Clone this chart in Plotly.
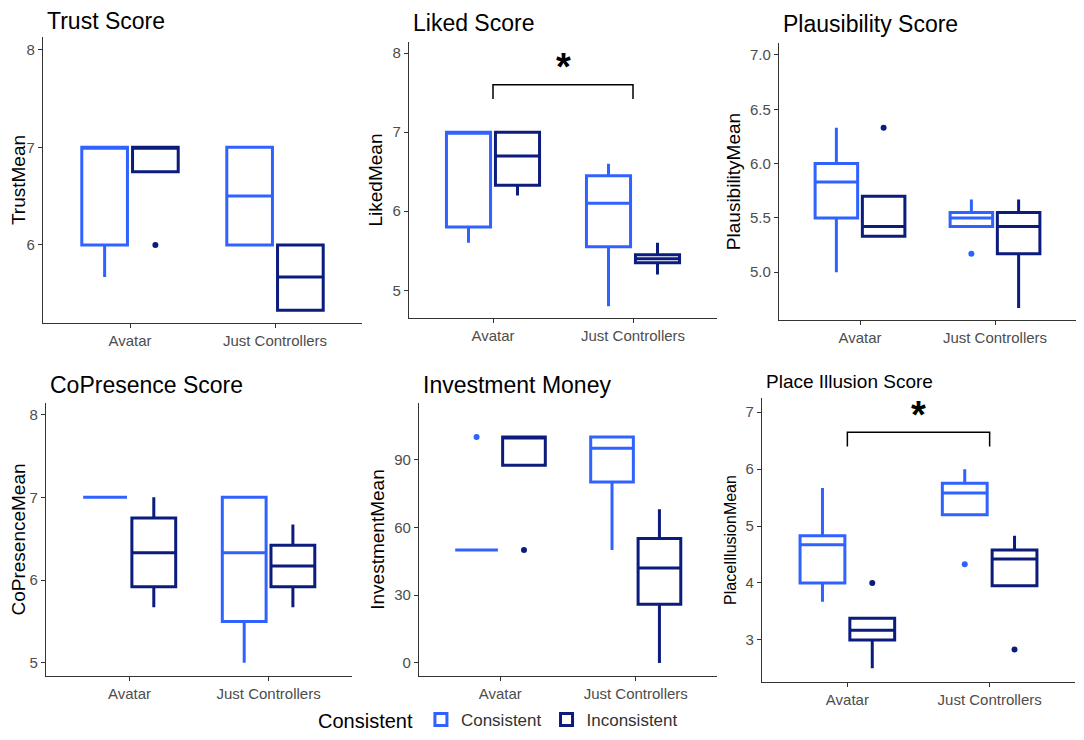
import plotly.graph_objects as go

groups = ["Avatar", "Just Controllers"]

# each box: [lower whisker, q1, median, q3, upper whisker], one per group
trust_con = [[5.67, 6.0, 7.0, 7.0, 7.0], [6.0, 6.0, 6.5, 7.0, 7.0]]
trust_inc = [[6.75, 6.75, 7.0, 7.0, 7.0], [5.33, 5.33, 5.67, 6.0, 6.0]]
trust_out_con = [[], []]
trust_out_inc = [[6.0], []]

liked_con = [[5.6, 5.8, 7.0, 7.0, 7.0], [4.8, 5.55, 6.1, 6.45, 6.6]]
liked_inc = [[6.2, 6.33, 6.7, 7.0, 7.0], [5.2, 5.35, 5.4, 5.45, 5.6]]
liked_out_con = [[], []]
liked_out_inc = [[], []]

plaus_con = [[5.0, 5.5, 5.83, 6.0, 6.33], [5.42, 5.42, 5.5, 5.55, 5.67]]
plaus_inc = [[5.33, 5.33, 5.42, 5.7, 5.7], [4.67, 5.17, 5.42, 5.55, 5.67]]
plaus_out_con = [[], [5.17]]
plaus_out_inc = [[6.33], []]

copres_con = [[7.0, 7.0, 7.0, 7.0, 7.0], [5.0, 5.5, 6.33, 7.0, 7.0]]
copres_inc = [[5.67, 5.92, 6.33, 6.75, 7.0], [5.67, 5.92, 6.17, 6.42, 6.67]]
copres_out_con = [[], []]
copres_out_inc = [[], []]

invest_con = [[50, 50, 50, 50, 50], [50, 80, 95, 100, 100]]
invest_inc = [[87.5, 87.5, 100, 100, 100], [0, 26, 42, 55, 68]]
invest_out_con = [[100], []]
invest_out_inc = [[50], []]

place_con = [[3.67, 4.0, 4.67, 4.83, 5.67], [5.2, 5.2, 5.58, 5.75, 6.0]]
place_inc = [[2.5, 3.0, 3.17, 3.38, 3.38], [3.95, 3.95, 4.42, 4.58, 4.83]]
place_out_con = [[], [4.33]]
place_out_inc = [[4.0], [2.83]]

liked_bracket = [7.42, 7.6, 7.6, 7.42]
liked_star = 7.83
place_bracket = [6.4, 6.65, 6.65, 6.4]
place_star = 6.95

COL_CON = "#3062FF"
COL_INC = "#0B1C7C"

# the page body has an 8px margin, so the figure is made smaller and
# reference pixel positions are shifted by that amount
OFF = 8
W, H = 1084 - 2 * OFF, 740 - 2 * OFF


def fx(px):
    return (px - OFF) / W


def fy(py):
    return 1 - (py - OFF) / H


panels = [
    dict(title="Trust Score", ytitle="TrustMean", con=trust_con, inc=trust_inc,
         oc=trust_out_con, oi=trust_out_inc, px=(43, 362), py=(37, 323),
         yr=[5.2, 8.13], ticks=[6, 7, 8], fmt="", tsize=23, ysize=19, ty=21),
    dict(title="Liked Score", ytitle="LikedMean", con=liked_con, inc=liked_inc,
         oc=liked_out_con, oi=liked_out_inc, px=(409, 717), py=(42, 318),
         yr=[4.65, 8.14], ticks=[5, 6, 7, 8], fmt="", tsize=23, ysize=19, ty=23),
    dict(title="Plausibility Score", ytitle="PlausibilityMean", con=plaus_con, inc=plaus_inc,
         oc=plaus_out_con, oi=plaus_out_inc, px=(779, 1076), py=(43, 320),
         yr=[4.56, 7.11], ticks=[5.0, 5.5, 6.0, 6.5, 7.0], fmt=".1f", tsize=23, ysize=19, ty=24),
    dict(title="CoPresence Score", ytitle="CoPresenceMean", con=copres_con, inc=copres_inc,
         oc=copres_out_con, oi=copres_out_inc, px=(46, 352), py=(403, 676),
         yr=[4.84, 8.14], ticks=[5, 6, 7, 8], fmt="", tsize=23, ysize=19, ty=385),
    dict(title="Investment Money", ytitle="InvestmentMean", con=invest_con, inc=invest_inc,
         oc=invest_out_con, oi=invest_out_inc, px=(419, 717), py=(403, 676),
         yr=[-5.8, 115], ticks=[0, 30, 60, 90], fmt="", tsize=23, ysize=19, ty=385),
    dict(title="Place Illusion Score", ytitle="PlaceIllusionMean", con=place_con, inc=place_inc,
         oc=place_out_con, oi=place_out_inc, px=(762, 1075), py=(398, 682),
         yr=[2.26, 7.25], ticks=[3, 4, 5, 6, 7], fmt="", tsize=19, ysize=16, ty=382),
]

fig = go.Figure()
layout = {}
annotations = []


def box_trace(stats, outliers, name, color, xa, ya, show):
    extra = {}
    if any(outliers):
        # empty groups get a placeholder so plotly still reads y as one sample list per box
        extra["y"] = [o if o else [None] for o in outliers]
        extra["boxpoints"] = "outliers"
    else:
        extra["boxpoints"] = False
    return go.Box(
        x=groups,
        lowerfence=[s[0] for s in stats],
        q1=[s[1] for s in stats],
        median=[s[2] for s in stats],
        q3=[s[3] for s in stats],
        upperfence=[s[4] for s in stats],
        jitter=0,
        pointpos=0,
        name=name,
        legendgroup=name,
        showlegend=show,
        offsetgroup=name,
        line=dict(color=color, width=3),
        fillcolor="rgba(255,255,255,0)",
        marker=dict(color=color, size=6),
        whiskerwidth=0,
        xaxis=xa,
        yaxis=ya,
        hoverinfo="skip",
        **extra,
    )


for i, p in enumerate(panels):
    n = "" if i == 0 else str(i + 1)
    xa, ya = "x" + n, "y" + n
    fig.add_trace(box_trace(p["con"], p["oc"], "Consistent", COL_CON, xa, ya, i == 0))
    fig.add_trace(box_trace(p["inc"], p["oi"], "Inconsistent", COL_INC, xa, ya, i == 0))

    layout["xaxis" + n] = dict(
        domain=[fx(p["px"][0]), fx(p["px"][1])], anchor=ya, type="category",
        categoryorder="array", categoryarray=groups, range=[-0.6, 1.6],
        showline=True, linecolor="#333333", linewidth=1.3, ticks="outside",
        ticklen=4, tickcolor="#333333", showgrid=False, zeroline=False,
        tickfont=dict(size=15, color="#4d4d4d"), automargin=False,
    )
    layout["yaxis" + n] = dict(
        domain=[fy(p["py"][1]), fy(p["py"][0])], anchor=xa, range=p["yr"],
        tickvals=p["ticks"], tickformat=p["fmt"], showline=True, linecolor="#333333",
        linewidth=1.3, ticks="outside", ticklen=4, tickcolor="#333333",
        showgrid=False, zeroline=False, tickfont=dict(size=15, color="#4d4d4d"),
        title=dict(text=p["ytitle"], font=dict(size=p["ysize"], color="black"), standoff=4),
        automargin=False,
    )
    annotations.append(dict(
        text=p["title"], xref="paper", yref="paper", x=fx(p["px"][0] + 2),
        y=fy(p["ty"]), xanchor="left", yanchor="middle",
        showarrow=False, font=dict(size=p["tsize"], color="black"),
    ))

# significance brackets
for n, by, sy in [("2", liked_bracket, liked_star), ("6", place_bracket, place_star)]:
    fig.add_trace(go.Scatter(
        x=[groups[0], groups[0], groups[1], groups[1]], y=by, mode="lines",
        line=dict(color="black", width=1.5), showlegend=False, hoverinfo="skip",
        xaxis="x" + n, yaxis="y" + n,
    ))
    annotations.append(dict(
        text="<b>*</b>", x=0.5, y=sy, xref="x" + n, yref="y" + n, showarrow=False,
        font=dict(size=38, color="black"), yanchor="middle",
    ))

fig.update_layout(
    **layout,
    annotations=annotations,
    width=W,
    height=H,
    margin=dict(l=0, r=0, t=0, b=0, autoexpand=False),
    paper_bgcolor="white",
    plot_bgcolor="white",
    font=dict(family="Liberation Sans, Arial, sans-serif"),
    boxmode="group",
    boxgap=0.3,
    boxgroupgap=0.1,
    legend=dict(
        orientation="h", x=fx(316), y=fy(720), xanchor="left", yanchor="middle",
        title=dict(text="Consistent", font=dict(size=20, color="black")),
        font=dict(size=17, color="#333333"),
    ),
)

fig.write_html("out.html")
